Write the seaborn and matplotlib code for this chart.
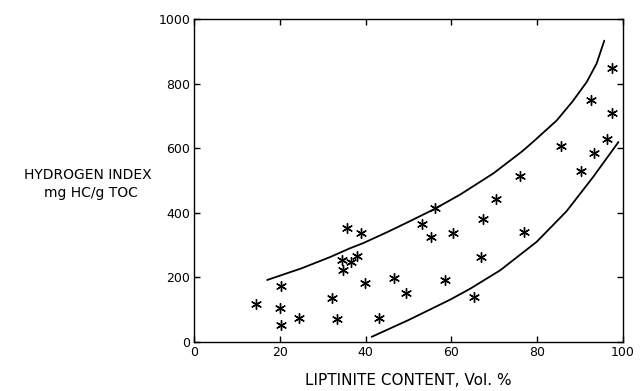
import numpy as np
import pandas as pd
import matplotlib
matplotlib.use("Agg")
import matplotlib.pyplot as plt
import seaborn as sns

# Data
liptinite = [14.4, 20.2, 20.0, 20.2, 24.5, 32.2, 33.3, 35.6, 34.4, 34.8, 36.5,
             37.9, 38.9, 39.8, 43.1, 46.6, 49.4, 53.2, 55.3, 56.2, 60.4, 58.5,
             65.3, 67.0, 67.4, 70.4, 76.1, 77.0, 85.6, 90.3, 93.3, 92.6, 96.4,
             97.5, 97.5]
hydrogen_index = [117, 173, 105, 52, 74, 136, 71, 352, 253, 222, 247,
                  266, 337, 182, 74, 198, 151, 365, 325, 414, 338, 192,
                  139, 263, 380, 442, 513, 340, 606, 528, 584, 748, 627,
                  708, 847]

upper_x = [17.0, 25.0, 31.7, 36.3, 39.4, 45.0, 50.0, 55.8, 62.0, 69.8, 76.5,
           79.1, 84.6, 88.3, 91.6, 93.9, 95.7]
upper_y = [192, 228, 263, 290, 306, 340, 372, 410, 456, 522, 590,
           620, 686, 745, 805, 862, 933]
lower_x = [41.4, 50.0, 59.7, 64.4, 71.4, 79.9, 86.9, 93.1, 99.0]
lower_y = [16, 68, 131, 165, 222, 310, 405, 511, 619]

x_ticks = [0, 20, 40, 60, 80, 100]
y_ticks = [0, 200, 400, 600, 800, 1000]

pts = pd.DataFrame({"x": liptinite, "y": hydrogen_index})
up = pd.DataFrame({"x": upper_x, "y": upper_y})
lo = pd.DataFrame({"x": lower_x, "y": lower_y})

sns.set_style("ticks")
plt.rcParams["font.family"] = ["DejaVu Sans"]
plt.rcParams["text.color"] = "black"
plt.rcParams["axes.labelcolor"] = "black"
plt.rcParams["xtick.color"] = "black"
plt.rcParams["ytick.color"] = "black"

fig = plt.figure(figsize=(6.4, 3.91), dpi=100)
ax = fig.add_axes([0.3036, 0.1253, 0.6694, 0.8261])

sns.lineplot(data=up, x="x", y="y", sort=False, estimator=None, color="black",
             linewidth=1.3, ax=ax)
sns.lineplot(data=lo, x="x", y="y", sort=False, estimator=None, color="black",
             linewidth=1.3, ax=ax)
sns.scatterplot(data=pts, x="x", y="y", marker=(6, 2, 0), s=50, color="black",
                edgecolor="black", linewidth=1.0, ax=ax, zorder=3)

ax.set_xlim(0, 100)
ax.set_ylim(0, 1000)
ax.set_xticks(x_ticks)
ax.set_yticks(y_ticks)
ax.set_xticklabels([str(v) for v in x_ticks], fontsize=9)
ax.set_yticklabels([str(v) for v in y_ticks], fontsize=9)
ax.tick_params(direction="in", length=4, width=1, top=True, right=True,
               pad=3, colors="black", labelcolor="black")
for s in ax.spines.values():
    s.set_visible(True)
    s.set_color("black")
    s.set_linewidth(1.0)

ax.set_xlabel("LIPTINITE CONTENT, Vol. %", fontsize=11, labelpad=10,
              color="black")
ax.set_ylabel("")
fig.text(88 / 640, 1 - 175 / 391, "HYDROGEN INDEX", fontsize=10,
         ha="center", va="center", color="black")
fig.text(91 / 640, 1 - 193 / 391, "mg HC/g TOC", fontsize=10,
         ha="center", va="center", color="black")

fig.savefig("out.png", dpi=100)
